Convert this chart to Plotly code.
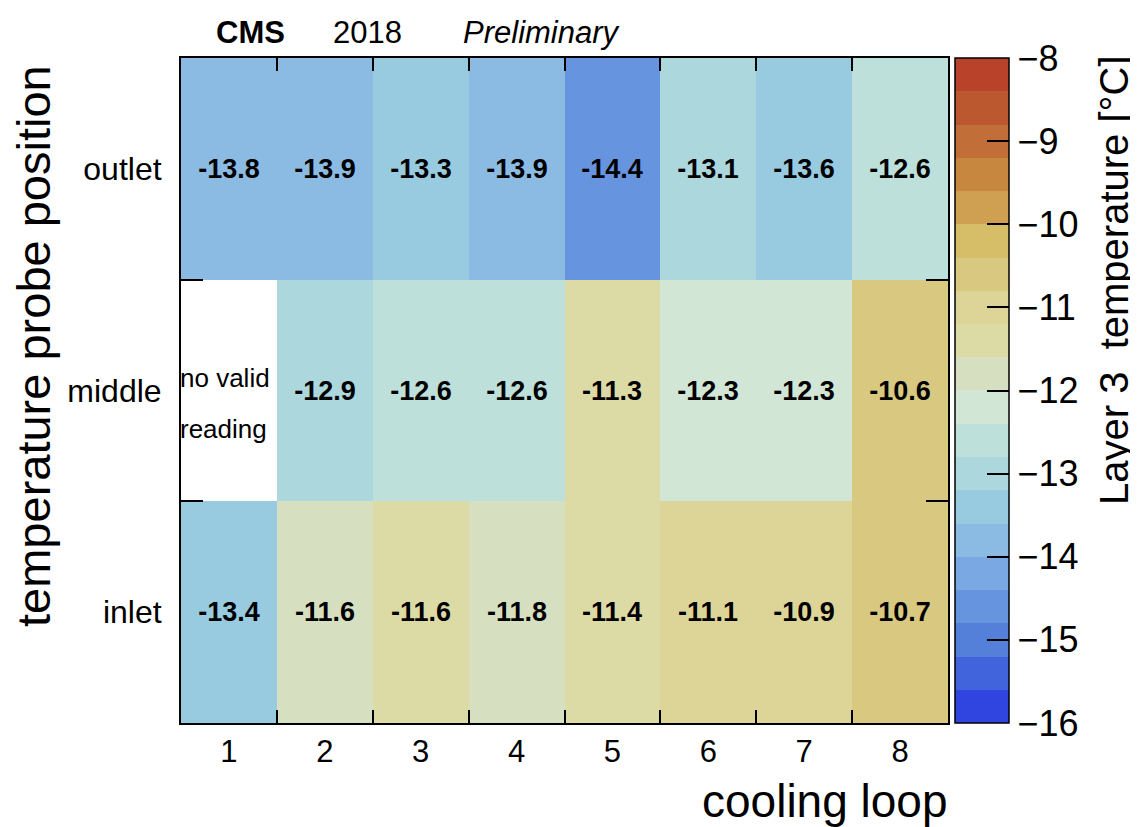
import plotly.graph_objects as go

# ---- data ----
loops = ["1", "2", "3", "4", "5", "6", "7", "8"]
positions = ["inlet", "middle", "outlet"]
inlet = [-13.4, -11.62, -11.58, -11.8, -11.4, -11.1, -10.9, -10.7]
middle = [None, -12.9, -12.6, -12.6, -11.3, -12.3, -12.3, -10.6]
outlet = [-13.8, -13.9, -13.3, -13.9, -14.42, -13.1, -13.58, -12.6]
cb_ticks = [-16, -15, -14, -13, -12, -11, -10, -9, -8]
zmin, zmax = -16.0, -8.0

# 20 discrete bands, from -16 (bottom) to -8 (top)
band_colors = [
    "#3044E0", "#4163DB", "#5480DA", "#6694DE", "#7AA8E3",
    "#8BBBE3", "#98CAE0", "#ABD7DD", "#BEE0DA", "#D2E6D6",
    "#D6E0C0", "#DCDBA6", "#DDD597", "#D9C880", "#D6BE68",
    "#CFA052", "#C8873F", "#C26E38", "#BC582F", "#B8432A",
]

colorscale = []
n = len(band_colors)
for i, c in enumerate(band_colors):
    colorscale.append([i / n, c])
    colorscale.append([(i + 1) / n, c])

z = [inlet, middle, outlet]
text = [["" if v is None else f"{v:.1f}" for v in row] for row in z]

FONT = "Liberation Sans, Arial, Helvetica, sans-serif"

# page body has an 8px margin: figure is drawn 8px right/down
OFF = 8
W, H = 1138 - OFF, 827 - OFF
L, R, T, B = 181 - OFF, 190, 58 - OFF, 104
pw = W - L - R
ph = H - T - B


def px_x(x):
    return (x - 181) / pw


def px_y(y):
    return (723 - y) / ph


fig = go.Figure()
fig.add_trace(go.Heatmap(
    x=loops, y=positions, z=z,
    text=text, texttemplate="%{text}",
    textfont=dict(family=FONT, size=27, color="black", weight="bold"),
    colorscale=colorscale, zmin=zmin, zmax=zmax,
    hoverongaps=False,
    colorbar=dict(
        thickness=54, thicknessmode="pixels",
        len=1, lenmode="fraction", y=0.5, yanchor="middle",
        x=px_x(955), xanchor="left", xpad=0, ypad=0,
        outlinewidth=1.5, outlinecolor="black",
        tickvals=cb_ticks, ticks="inside", ticklen=22,
        tickcolor="black", tickwidth=1.5,
        tickfont=dict(family=FONT, size=36, color="black"),
    ),
))

fig.update_layout(
    width=W, height=H,
    margin=dict(l=L, r=R, t=T, b=B),
    paper_bgcolor="white", plot_bgcolor="white",
    font=dict(family=FONT, color="black"),
    xaxis=dict(
        type="category", tickson="boundaries", ticks="inside", ticklen=13,
        tickwidth=1.5, tickcolor="black",
        showline=True, linecolor="black", linewidth=2, mirror="ticks",
        showgrid=False, zeroline=False,
        tickfont=dict(family=FONT, size=31, color="black"),
        ticklabelstandoff=0,
    ),
    yaxis=dict(
        type="category", tickson="boundaries", ticks="inside", ticklen=22,
        tickwidth=1.5, tickcolor="black",
        showline=True, linecolor="black", linewidth=2, mirror="ticks",
        showgrid=False, zeroline=False,
        tickfont=dict(family=FONT, size=32, color="black"),
        ticklabelstandoff=11,
    ),
)

ann = [
    dict(text="<b>CMS</b>", x=px_x(250), y=px_y(32), size=31),
    dict(text="2018", x=px_x(367), y=px_y(32), size=31),
    dict(text="<i>Preliminary</i>", x=px_x(542), y=px_y(32), size=31),
]
for a in ann:
    fig.add_annotation(text=a["text"], x=a["x"], y=a["y"], xref="paper", yref="paper",
                       showarrow=False, xanchor="center", yanchor="middle",
                       font=dict(family=FONT, size=a["size"], color="black"))

fig.add_annotation(text="no valid", x=px_x(178), y=px_y(378), xref="paper", yref="paper",
                   showarrow=False, xanchor="left", yanchor="middle",
                   font=dict(family=FONT, size=26, color="black"))
fig.add_annotation(text="reading", x=px_x(178), y=px_y(429), xref="paper", yref="paper",
                   showarrow=False, xanchor="left", yanchor="middle",
                   font=dict(family=FONT, size=26, color="black"))

fig.add_annotation(text="cooling loop", x=px_x(950), y=px_y(801), xref="paper", yref="paper",
                   showarrow=False, xanchor="right", yanchor="middle",
                   font=dict(family=FONT, size=46, color="black"))
fig.add_annotation(text="temperature probe position", x=px_x(33), y=px_y(346),
                   xref="paper", yref="paper", textangle=-90,
                   showarrow=False, xanchor="center", yanchor="middle",
                   font=dict(family=FONT, size=47, color="black"))
fig.add_annotation(text="Layer 3  temperature [°C]", x=px_x(1114), y=px_y(280),
                   xref="paper", yref="paper", textangle=-90,
                   showarrow=False, xanchor="center", yanchor="middle",
                   font=dict(family=FONT, size=40, color="black"))

fig.write_html("out.html")
